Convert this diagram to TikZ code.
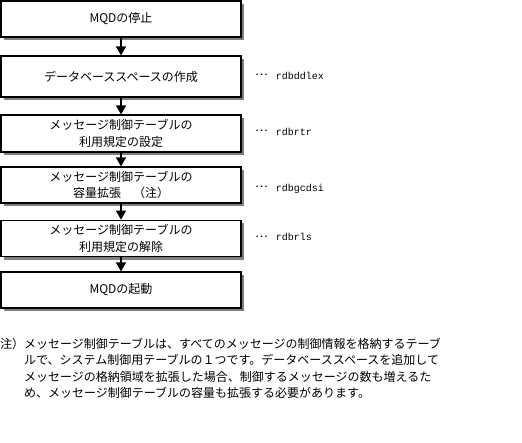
\documentclass[tikz,border=0pt]{standalone}
\usepackage{fontspec}
\setmainfont{Noto Sans CJK JP}
\newfontfamily\monofont{Liberation Mono}
\usetikzlibrary{arrows.meta,shadows}
\newcommand{\leader}{\raisebox{3.2pt}{…}\hspace{8pt}}
\begin{document}
\begin{tikzpicture}[x=1pt,y=-1pt,
  stepbox/.style={draw, line width=1.2pt, fill=white, minimum width=240pt, inner sep=0pt,
    align=center, font=\fontsize{12pt}{16.5pt}\selectfont,
    drop shadow={shadow xshift=3pt, shadow yshift=-3pt, fill=black!50, opacity=1}},
  flow/.style={line width=1.2pt, -{Triangle[width=10pt,length=9pt]}},
  cmd/.style={anchor=base west, inner sep=0pt, font=\fontsize{12pt}{14pt}\selectfont},
  note/.style={anchor=west, inner sep=0pt, font=\fontsize{12pt}{14pt}\selectfont}]
\useasboundingbox (0,0) rectangle (522,442);
\node[stepbox, minimum height=36pt] (s1) at (121,19) {MQDの停止};
\node[stepbox, minimum height=41pt] (s2) at (121,76.5) {データベーススペースの作成};
\node[stepbox, minimum height=37pt] (s3) at (121,133.5) {メッセージ制御テーブルの\\利用規定の設定};
\node[stepbox, minimum height=36pt] (s4) at (121,185) {メッセージ制御テーブルの\\容量拡張　（注）};
\node[stepbox, minimum height=36.5pt] (s5) at (121,238.5) {メッセージ制御テーブルの\\利用規定の解除};
\node[stepbox, minimum height=36pt] (s6) at (121,290) {MQDの起動};
\draw[flow] (s1.south) -- (s2.north);
\draw[flow] (s2.south) -- (s3.north);
\draw[flow] (s3.south) -- (s4.north);
\draw[flow] (s4.south) -- (s5.north);
\draw[flow] (s5.south) -- (s6.north);
\node[cmd] (l2) at (255,79) {\leader{\monofont\fontsize{10pt}{12pt}\selectfont rdbddlex}};
\node[cmd] (l3) at (255,135) {\leader{\monofont\fontsize{10pt}{12pt}\selectfont rdbrtr}};
\node[cmd] (l4) at (255,191) {\leader{\monofont\fontsize{10pt}{12pt}\selectfont rdbgcdsi}};
\node[cmd] (l5) at (255,240.5) {\leader{\monofont\fontsize{10pt}{12pt}\selectfont rdbrls}};
\node[note] (n1) at (0,344) {注）メッセージ制御テーブルは、すべてのメッセージの制御情報を格納するテーブ};
\node[note] (n2) at (24,360.3) {ルで、システム制御用テーブルの１つです。データベーススペースを追加して};
\node[note] (n3) at (24,376.6) {メッセージの格納領域を拡張した場合、制御するメッセージの数も増えるた};
\node[note] (n4) at (24,392.9) {め、メッセージ制御テーブルの容量も拡張する必要があります。};
\end{tikzpicture}
\end{document}
